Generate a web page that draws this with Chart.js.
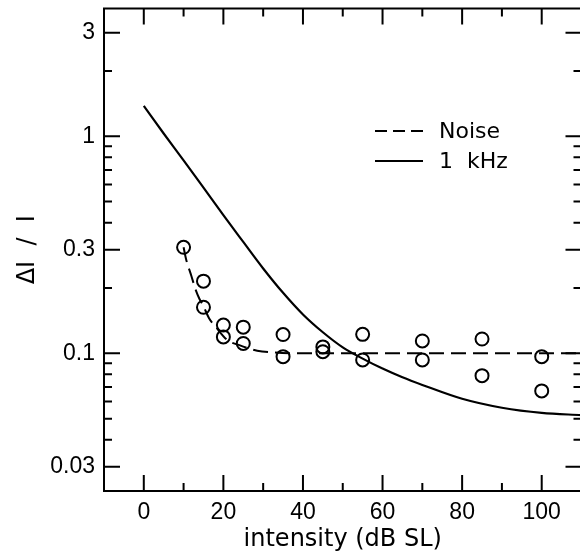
<!DOCTYPE html>
<html>
<head>
<meta charset="utf-8">
<script src="https://cdn.jsdelivr.net/npm/chart.js@4.4.1/dist/chart.umd.min.js"></script>
<style>
html, body { margin: 0; padding: 0; background: #fff; overflow: hidden; }
#wrap { width: 590px; height: 554px; }
</style>
</head>
<body>
<div id="wrap"><canvas id="chart" width="590" height="554"></canvas></div>
<script>
// measured points (noise masker)
var noiseX = [10, 15, 15, 20, 20, 25, 25, 35, 35, 45, 45, 55, 55, 70, 70, 85, 85, 100, 100];
var noiseY = [0.308, 0.215, 0.163, 0.135, 0.119, 0.132, 0.111, 0.122, 0.0965, 0.107, 0.1017,
              0.1223, 0.0932, 0.114, 0.0932, 0.1164, 0.0789, 0.0965, 0.0671];

// dashed fit through the noise data
var fitX = [10, 10.6, 12, 13, 14, 15, 16.4, 18, 21, 24, 28.5, 33, 40, 110];
var fitY = [0.308, 0.273, 0.226, 0.197, 0.178, 0.165, 0.145, 0.133, 0.115, 0.109, 0.1028, 0.1008, 0.1, 0.1];

// 1 kHz tone curve
var toneX = [0, 5, 10, 15, 20, 25, 30, 35, 40, 45, 50, 55, 60, 65, 70, 80, 90, 100, 110];
var toneY = [1.38, 1.03, 0.775, 0.58, 0.433, 0.326, 0.246, 0.19, 0.151, 0.125, 0.1065,
             0.0945, 0.085, 0.0775, 0.0715, 0.0617, 0.0561, 0.0531, 0.0519];

var xMajor = [0, 20, 40, 60, 80, 100];
var xMinor = [10, 30, 50, 70, 90];
var yMajor = [0.03, 0.1, 0.3, 1, 3];
var yMinor = [2, 0.9, 0.8, 0.7, 0.6, 0.5, 0.4, 0.2, 0.09, 0.08, 0.07, 0.06, 0.05, 0.04];

var legendNames = ['Noise', '1  kHz'];

function pts(xs, ys) {
    return xs.map(function (x, i) { return {x: x, y: ys[i]}; });
}

var tickFont = {family: '"Liberation Sans", Arial, sans-serif', size: 23};
var titleFont = {family: '"DejaVu Sans", sans-serif', size: 24};

// frame, inward ticks on all four sides, and the legend inside the plot
var framePlugin = {
    id: 'frame',
    afterDatasetsDraw: function (chart) {
        var ctx = chart.ctx;
        var a = chart.chartArea;
        var xs = chart.scales.x, ys = chart.scales.y;
        ctx.save();
        ctx.strokeStyle = '#000';
        ctx.lineWidth = 2;
        ctx.setLineDash([]);
        ctx.strokeRect(a.left, a.top, a.right - a.left, a.bottom - a.top);

        function xt(v, len) {
            var p = xs.getPixelForValue(v);
            ctx.beginPath();
            ctx.moveTo(p, a.bottom); ctx.lineTo(p, a.bottom - len);
            ctx.moveTo(p, a.top); ctx.lineTo(p, a.top + len);
            ctx.stroke();
        }
        function yt(v, len) {
            var p = ys.getPixelForValue(v);
            ctx.beginPath();
            ctx.moveTo(a.left, p); ctx.lineTo(a.left + len, p);
            ctx.moveTo(a.right, p); ctx.lineTo(a.right - len, p);
            ctx.stroke();
        }
        xMajor.forEach(function (v) { xt(v, 16); });
        xMinor.forEach(function (v) { xt(v, 8); });
        yMajor.forEach(function (v) { yt(v, 16); });
        yMinor.forEach(function (v) { yt(v, 8); });

        // legend
        ctx.font = '22px "DejaVu Sans", sans-serif';
        ctx.fillStyle = '#000';
        ctx.textBaseline = 'middle';
        ctx.textAlign = 'left';
        var rows = [{dash: [12, 6], y: 131}, {dash: [], y: 161}];
        rows.forEach(function (r, i) {
            ctx.setLineDash(r.dash);
            ctx.beginPath();
            ctx.moveTo(375, r.y); ctx.lineTo(423, r.y);
            ctx.stroke();
            ctx.setLineDash([]);
            ctx.fillText(legendNames[i], 439, r.y + 1);
        });
        ctx.restore();
    }
};

var chart = new Chart(document.getElementById('chart').getContext('2d'), {
    type: 'scatter',
    data: {
        datasets: [
            {
                label: 'Noise data',
                data: pts(noiseX, noiseY),
                showLine: false,
                pointStyle: 'circle',
                pointRadius: 6.5,
                borderWidth: 2,
                borderColor: '#000',
                backgroundColor: 'rgba(0,0,0,0)'
            },
            {
                label: 'Noise',
                data: pts(fitX, fitY),
                showLine: true,
                pointRadius: 0,
                borderWidth: 2,
                borderColor: '#000',
                borderDash: [15, 7],
                cubicInterpolationMode: 'monotone'
            },
            {
                label: '1 kHz',
                data: pts(toneX, toneY),
                showLine: true,
                pointRadius: 0,
                borderWidth: 2.2,
                borderColor: '#000',
                cubicInterpolationMode: 'monotone'
            }
        ]
    },
    options: {
        responsive: false,
        animation: false,
        devicePixelRatio: 1,
        layout: {padding: {top: 8, right: 4, left: 0, bottom: 0}},
        plugins: {legend: {display: false}, tooltip: {enabled: false}},
        scales: {
            x: {
                type: 'linear',
                min: -10,
                max: 110,
                grid: {display: false, drawTicks: false},
                border: {display: false},
                ticks: {color: '#000', font: tickFont, padding: 8,
                        callback: function (v) { return String(v); }},
                afterBuildTicks: function (s) {
                    s.ticks = xMajor.map(function (v) { return {value: v}; });
                },
                afterFit: function (s) {
                    s.height = 63;
                    s.paddingLeft = 0; s.paddingRight = 0;
                },
                title: {display: true, text: 'intensity (dB SL)', color: '#000',
                        font: titleFont, padding: {top: 0, bottom: 0}}
            },
            y: {
                type: 'logarithmic',
                min: 0.0232,
                max: 3.88,
                grid: {display: false, drawTicks: false},
                border: {display: false},
                ticks: {color: '#000', font: tickFont, padding: 9,
                        callback: function (v) { return String(v); }},
                afterBuildTicks: function (s) {
                    s.ticks = yMajor.map(function (v) { return {value: v}; });
                },
                afterFit: function (s) {
                    s.width = 104;
                    s.paddingTop = 0; s.paddingBottom = 0;
                },
                title: {display: true, text: '\u0394I  /  I', color: '#000',
                        font: titleFont, padding: {top: 13, bottom: 0}}
            }
        }
    },
    plugins: [framePlugin]
});
</script>
</body>
</html>
